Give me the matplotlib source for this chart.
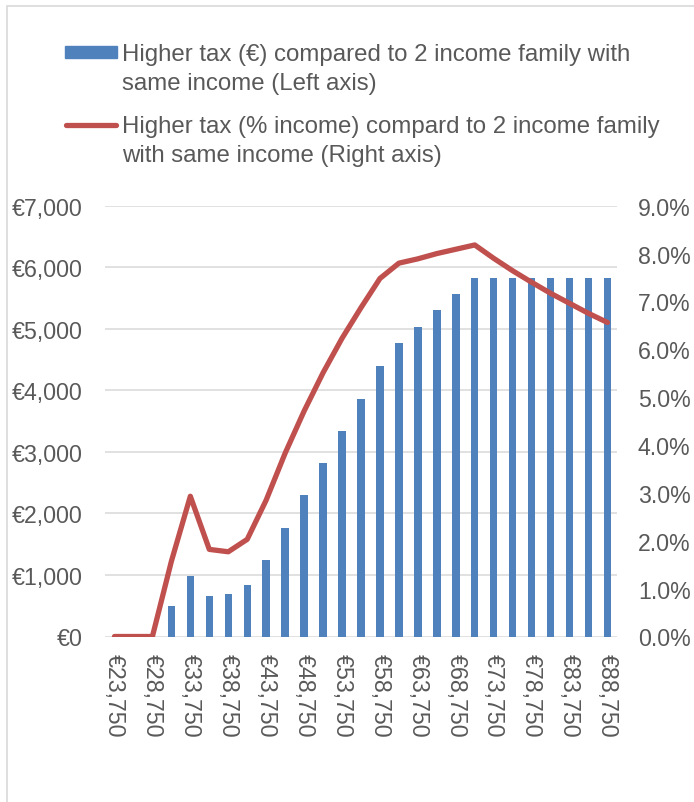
import matplotlib
matplotlib.use('Agg')
import matplotlib.pyplot as plt
from matplotlib.patches import Rectangle
from matplotlib.lines import Line2D
from matplotlib.ticker import FuncFormatter, MultipleLocator

plt.rcParams['font.family'] = ['Liberation Sans', 'DejaVu Sans']

######## data
incomes = [23750, 26250, 28750, 31250, 33750, 36250, 38750, 41250, 43750,
           46250, 48750, 51250, 53750, 56250, 58750, 61250, 63750, 66250,
           68750, 71250, 73750, 76250, 78750, 81250, 83750, 86250, 88750]
higher_tax_eur = [0, 0, 0, 490, 990, 658, 686, 836, 1248,
                  1771, 2297, 2822, 3347, 3867, 4397, 4776, 5031, 5302,
                  5560, 5826, 5826, 5826, 5826, 5826, 5826, 5826, 5826]
higher_tax_pct = [0.0, 0.0, 0.0, 1.57, 2.93, 1.82, 1.77, 2.03, 2.85,
                  3.83, 4.71, 5.51, 6.23, 6.87, 7.48, 7.80, 7.89, 8.00,
                  8.09, 8.18, 7.90, 7.64, 7.40, 7.17, 6.96, 6.75, 6.56]
label_bar = 'Higher tax (€) compared to 2 income family with\nsame income (Left axis)'
label_line = 'Higher tax (% income) compard to 2 income family\nwith same income (Right axis)'

blue = '#4F81BD'
red = '#C0504D'
grey_txt = '#595959'
grid_col = '#D9D9D9'
fs = 16.7
fs_leg = 17.3

W, H = 694, 803
fig = plt.figure(figsize=(W / 100, H / 100), dpi=100)

def fx(px):
    return px / W

def fy(py):
    return 1 - py / H

def pt(px):
    # pixels -> points at 100 dpi
    return px * 0.72

####### axes
left, right, top, bottom = 105, 617, 206.7, 637.5
ax = fig.add_axes([fx(left), fy(bottom), fx(right - left), (bottom - top) / H])
x = list(range(len(incomes)))
ax.bar(x, higher_tax_eur, width=0.39, color=blue, zorder=2)
ax.set_xlim(-0.5, len(incomes) - 0.5)
ax.set_ylim(0, 7000)
ax.yaxis.set_major_locator(MultipleLocator(1000))
ax.yaxis.set_major_formatter(FuncFormatter(lambda v, p: '€{:,.0f}'.format(v)))
ax.grid(axis='y', color=grid_col, linewidth=1.1, zorder=0)
ax.set_axisbelow(True)
for s in ax.spines.values():
    s.set_visible(False)
ax.set_xticks(x[::2])
ax.set_xticklabels(['€{:,}'.format(v) for v in incomes[::2]], rotation=270)
ax.tick_params(axis='y', length=0, pad=pt(22), labelsize=fs, labelcolor=grey_txt)
ax.tick_params(axis='x', length=0, pad=pt(17), labelsize=fs, labelcolor=grey_txt)

ax2 = ax.twinx()
ax2.plot(x, higher_tax_pct, color=red, linewidth=3.8,
         solid_joinstyle='round', solid_capstyle='round', zorder=3)
ax2.set_ylim(0, 9)
ax2.yaxis.set_major_locator(MultipleLocator(1))
ax2.yaxis.set_major_formatter(FuncFormatter(lambda v, p: '{:.1f}%'.format(v)))
ax2.tick_params(axis='y', length=0, pad=pt(21), labelsize=fs, labelcolor=grey_txt)
for s in ax2.spines.values():
    s.set_visible(False)

####### legend, drawn by hand
fig.add_artist(Rectangle((fx(65), fy(59)), fx(117) - fx(65), fy(47) - fy(59),
                         transform=fig.transFigure, color=blue))
fig.add_artist(Line2D([fx(66), fx(116)], [fy(126), fy(126)], transform=fig.transFigure,
                      color=red, linewidth=3.8, solid_capstyle='round'))
for i, line in enumerate(label_bar.split('\n')):
    fig.text(fx(122), fy(55 + 29 * i), line, fontsize=fs_leg, color=grey_txt, va='center')
for i, line in enumerate(label_line.split('\n')):
    fig.text(fx(122), fy(127 + 29 * i), line, fontsize=fs_leg, color=grey_txt, va='center')

####### chart border
fig.add_artist(Rectangle((fx(6.5), -0.1), 1.2, fy(6.5) + 0.1, transform=fig.transFigure,
                         fill=False, edgecolor=grid_col, linewidth=1.2))

fig.savefig('out.png', dpi=100)
